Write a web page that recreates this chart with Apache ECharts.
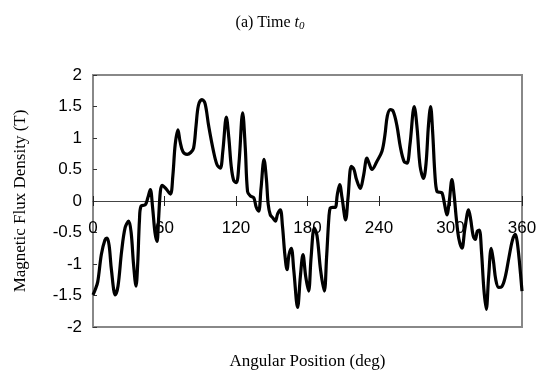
<!DOCTYPE html>
<html>
<head>
<meta charset="utf-8">
<script src="https://cdn.jsdelivr.net/npm/echarts@6/dist/echarts.min.js"></script>
<style>html,body{margin:0;padding:0;background:#fff;}#c{width:540px;height:377px;}</style>
</head>
<body>
<div id="c"></div>
<script>
const angles = [0,2,4,7,10,11.7,13.5,15.5,18.7,21,24,27,29.9,32,34,36.1,37.5,39,40.3,43.9,46,48.1,50,52,53.7,55,56.5,58,61,64.9,67,69,71.3,73,75.5,79,82,84.4,86.5,88.5,91.4,94,97,101,104,106.8,109,111.9,114,116,118,120.3,122.5,125.6,127.8,129.7,132,134.9,137,139,141,143.5,145.5,147,148.8,151,153,155,157.2,159,161,162.8,164.5,166.4,168.5,171.7,174,176.2,178.5,180.9,183,185.7,188,191,194.1,196,198,199.1,201,203.3,205,207,209,212,214,216.8,219,221,224.3,227,229.9,232,234.1,238,242.5,245,247,249.5,252,255,258,261,263.5,266,269.6,272,274.5,277.4,279.5,281.5,283.3,285,287,288.7,291,292.9,295,297,299,301.2,303,305,307,309.6,312,315.2,317,319,320.8,322.5,324.2,326,328,330,332,334.2,336,338,340.4,343,346,349,352,354.4,356,358,360];
const flux = [-1.49,-1.40,-1.28,-0.85,-0.62,-0.59,-0.70,-1.1,-1.49,-1.35,-0.8,-0.42,-0.32,-0.5,-1.0,-1.35,-1.0,-0.3,-0.08,-0.06,0.05,0.18,-0.1,-0.5,-0.64,-0.3,0.15,0.25,0.2,0.11,0.4,0.9,1.13,0.95,0.78,0.74,0.77,0.84,1.2,1.52,1.61,1.55,1.2,0.8,0.58,0.52,0.8,1.33,1.0,0.55,0.33,0.29,0.6,1.40,0.84,0.15,0.08,0.05,-0.1,-0.16,0.2,0.66,0.35,-0.05,-0.22,-0.27,-0.32,-0.2,-0.14,-0.4,-0.85,-1.09,-0.85,-0.75,-1.1,-1.69,-1.2,-0.85,-1.2,-1.43,-0.9,-0.43,-0.55,-1.1,-1.43,-0.9,-0.25,-0.11,-0.1,-0.1,0.1,0.26,0.05,-0.3,0.05,0.55,0.5,0.35,0.2,0.4,0.68,0.58,0.5,0.62,0.79,1.05,1.35,1.45,1.42,1.2,0.85,0.63,0.6,0.9,1.5,1.15,0.55,0.36,0.6,1.2,1.5,1.1,0.4,0.15,0.14,0.13,-0.05,-0.22,0.0,0.34,0.1,-0.3,-0.6,-0.75,-0.45,-0.14,-0.3,-0.55,-0.61,-0.48,-0.46,-0.8,-1.4,-1.72,-1.2,-0.75,-0.95,-1.25,-1.37,-1.36,-1.2,-0.9,-0.62,-0.53,-0.65,-1.0,-1.43];
const xTicks = [0,60,120,180,240,300,360];
const yTicks = [-2,-1.5,-1,-0.5,0,0.5,1,1.5,2];
const titleText = '(a) Time ';
const xName = 'Angular Position (deg)';
const yName = 'Magnetic Flux Density (T)';

const data = angles.map((a, i) => [a, flux[i]]);
const chart = echarts.init(document.getElementById('c'), null, {renderer: 'canvas'});
const serif = 'Liberation Serif';
const sans = 'Liberation Sans';
const gridTop = 75, gridBottom = 50, H = 377;
const zeroOffset = -((H - gridTop - gridBottom) / 2); // put x axis on the y = 0 line
chart.setOption({
  backgroundColor: '#fff',
  animation: false,
  title: {
    text: '{a|' + titleText + '}{t|t}{s|0}',
    left: 'center',
    top: 9,
    textStyle: {
      fontWeight: 'normal',
      rich: {
        a: {fontFamily: serif, fontSize: 16, fontWeight: 'normal', color: '#000'},
        t: {fontFamily: serif, fontSize: 16, fontWeight: 'normal', fontStyle: 'italic', color: '#000'},
        s: {fontFamily: serif, fontSize: 11, fontWeight: 'normal', fontStyle: 'italic', color: '#000', padding: [7, 0, 0, 0]}
      }
    }
  },
  grid: {
    left: 93, right: 18, top: gridTop, bottom: gridBottom,
    outerBoundsMode: 'none', containLabel: false,
    show: true, borderColor: '#888', borderWidth: 2
  },
  xAxis: [{
    type: 'value', min: xTicks[0], max: xTicks[xTicks.length - 1], interval: 60,
    position: 'bottom', offset: zeroOffset,
    axisLine: {show: true, onZero: false, lineStyle: {color: '#444', width: 1}},
    axisTick: {show: true, inside: false, length: 5, lineStyle: {color: '#222'}},
    axisLabel: {fontFamily: sans, fontSize: 17, color: '#000', margin: 19,
      formatter: v => xTicks.includes(v) ? String(v) : ''},
    splitLine: {show: false},
    name: xName, nameLocation: 'middle', nameGap: 152,
    nameTextStyle: {fontFamily: serif, fontSize: 17, color: '#000'}
  }, {
    type: 'value', min: xTicks[0], max: xTicks[xTicks.length - 1], interval: 60,
    position: 'bottom', offset: zeroOffset,
    axisLine: {show: false, onZero: false},
    axisTick: {show: true, inside: true, length: 5, lineStyle: {color: '#222'}},
    axisLabel: {show: false},
    splitLine: {show: false}
  }],
  yAxis: {
    type: 'value', min: yTicks[0], max: yTicks[yTicks.length - 1], interval: 0.5,
    axisLine: {show: false},
    axisTick: {show: true, inside: true, length: 4, lineStyle: {color: '#333'}},
    axisLabel: {fontFamily: sans, fontSize: 17, color: '#000', margin: 11, showMinLabel: true, showMaxLabel: true},
    splitLine: {show: false},
    name: yName, nameLocation: 'middle', nameGap: 64, nameRotate: 90,
    nameTextStyle: {fontFamily: serif, fontSize: 17, color: '#000'}
  },
  series: [{
    type: 'line', data: data, xAxisIndex: 0, showSymbol: false, smooth: 0.35,
    lineStyle: {color: '#000', width: 3.2}, z: 5
  }]
});
</script>
</body>
</html>
